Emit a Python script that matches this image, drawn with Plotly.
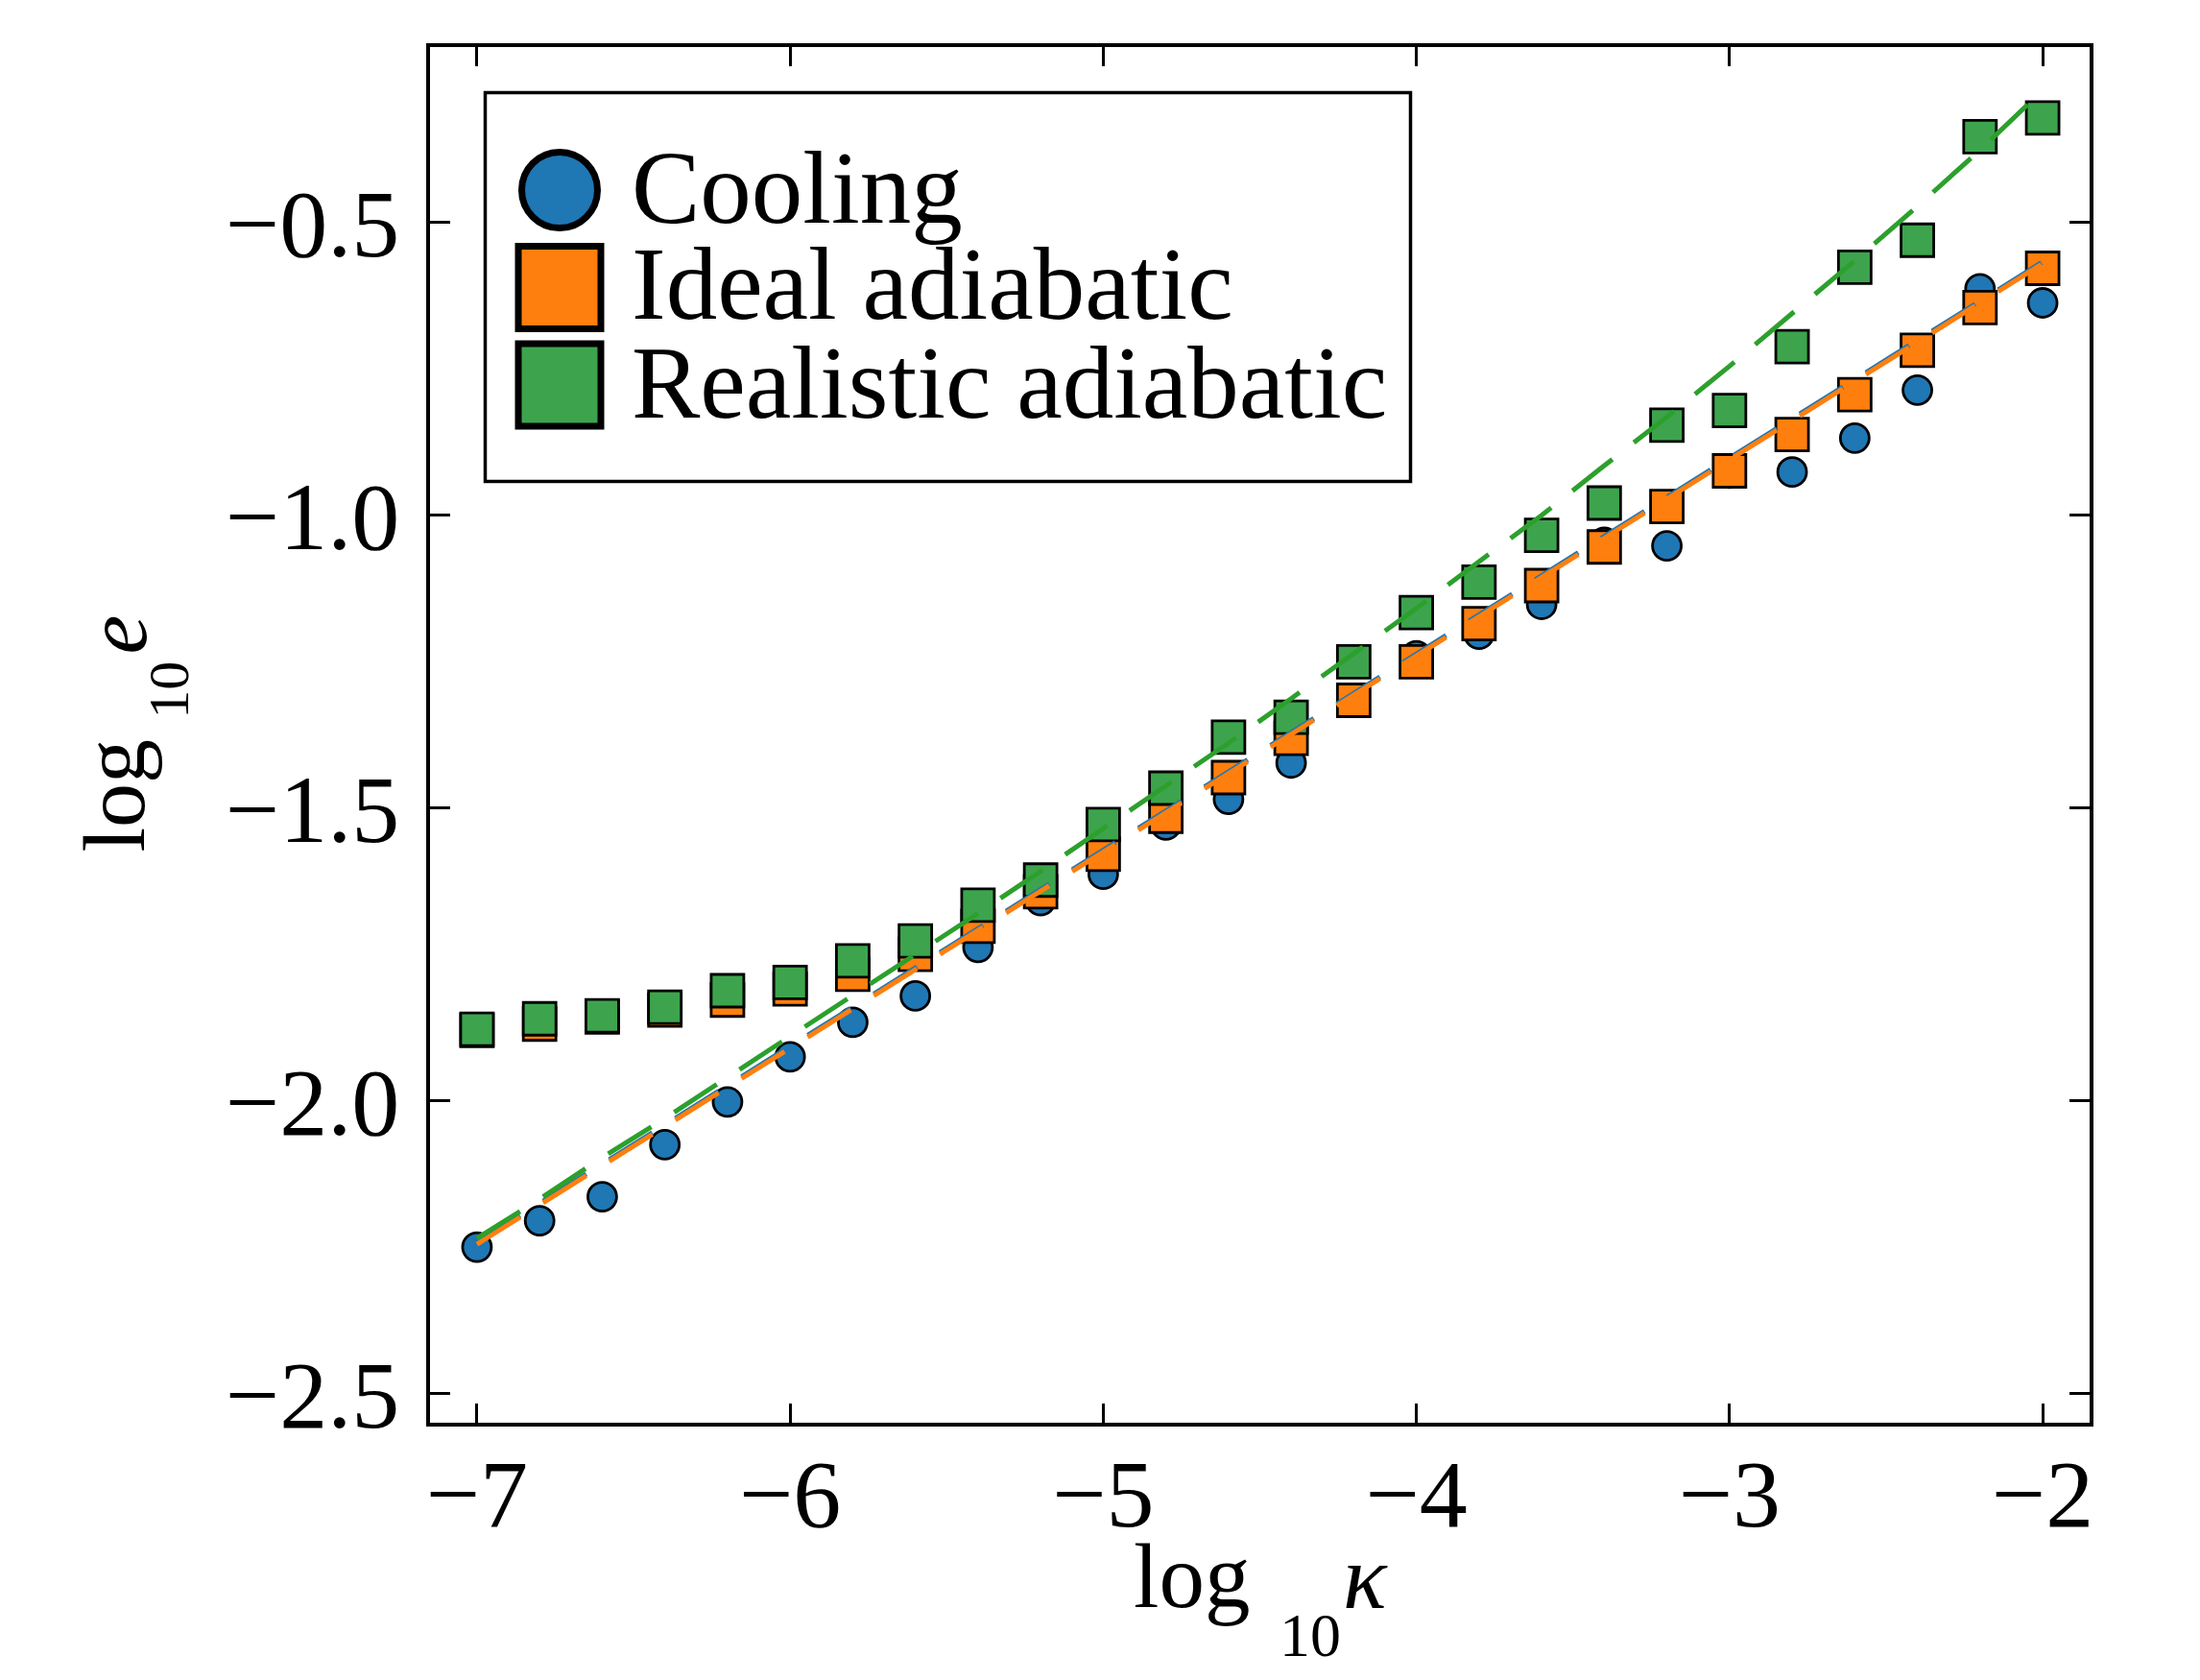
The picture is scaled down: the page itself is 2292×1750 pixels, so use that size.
import plotly.graph_objects as go

# ---------------- data ----------------
log_kappa = [-7.0, -6.8, -6.6, -6.4, -6.2, -6.0, -5.8, -5.6, -5.4, -5.2, -5.0, -4.8, -4.6,
             -4.4, -4.2, -4.0, -3.8, -3.6, -3.4, -3.2, -3.0, -2.8, -2.6, -2.4, -2.2, -2.0]
cooling = [-2.250, -2.205, -2.164, -2.075, -2.002, -1.925, -1.866, -1.821, -1.738, -1.658,
           -1.613, -1.529, -1.485, -1.423, -1.318, -1.240, -1.203, -1.152, -1.046, -1.052,
           -0.928, -0.926, -0.868, -0.786, -0.613, -0.637]
ideal = [-1.880, -1.869, -1.857, -1.845, -1.828, -1.809, -1.784, -1.750, -1.702, -1.643,
         -1.579, -1.514, -1.448, -1.381, -1.316, -1.250, -1.185, -1.120, -1.054, -0.985,
         -0.924, -0.862, -0.794, -0.718, -0.645, -0.578]
realistic = [-1.878, -1.860, -1.855, -1.840, -1.812, -1.798, -1.761, -1.727, -1.666, -1.623,
             -1.528, -1.466, -1.379, -1.345, -1.250, -1.166, -1.114, -1.034, -0.979, -0.846,
             -0.821, -0.712, -0.576, -0.530, -0.353, -0.321]
fit_ends_x = [-7.0, -2.0]
cooling_fit = [-2.242, -0.567]
ideal_fit = [-2.245, -0.570]
realistic_fit = [-2.235, -2.168, -2.097, -2.030, -1.960, -1.890, -1.821, -1.751, -1.680, -1.608,
                 -1.535, -1.462, -1.389, -1.313, -1.237, -1.159, -1.079, -1.000, -0.915, -0.832,
                 -0.745, -0.656, -0.565, -0.472, -0.376, -0.274]
series_names = ["Cooling", "Ideal adiabatic", "Realistic adiabatic"]
x_ticks = [-7, -6, -5, -4, -3, -2]
y_ticks = [-2.5, -2.0, -1.5, -1.0, -0.5]

# ---------------- style ----------------
BLUE, ORANGE, GREEN = "#1f77b4", "#ff7f0e", "#2ca02c"
GREEN_M = "#3da44d"
FONT = "Liberation Serif"
W, H = 2292, 1750
ML, MR, MT, MB = 448, 115, 49, 268
PW, PH = W - ML - MR, H - MT - MB


def px(x):
    return (x - ML) / PW


def py(y):
    return (H - MB - y) / PH


fig = go.Figure()
mline = dict(color="black", width=2.8)
fig.add_trace(go.Scatter(x=log_kappa, y=cooling, mode="markers", name=series_names[0],
                         marker=dict(symbol="circle", size=30, color=BLUE, line=mline)))
fig.add_trace(go.Scatter(x=log_kappa, y=ideal, mode="markers", name=series_names[1],
                         marker=dict(symbol="square", size=34, color=ORANGE, line=mline)))
fig.add_trace(go.Scatter(x=log_kappa, y=realistic, mode="markers", name=series_names[2],
                         marker=dict(symbol="square", size=34, color=GREEN_M, line=mline)))
DASH = "53px,28.3px"
fig.add_trace(go.Scatter(x=fit_ends_x, y=cooling_fit, mode="lines",
                         line=dict(color=BLUE, width=5, dash=DASH)))
fig.add_trace(go.Scatter(x=fit_ends_x, y=ideal_fit, mode="lines",
                         line=dict(color=ORANGE, width=5, dash=DASH)))
fig.add_trace(go.Scatter(x=log_kappa, y=realistic_fit, mode="lines",
                         line=dict(color=GREEN, width=5, dash=DASH)))

axis_common = dict(showgrid=False, zeroline=False, showline=True, linecolor="black",
                   linewidth=3.5, mirror="allticks", ticks="inside", tickwidth=3,
                   tickcolor="black", tickfont=dict(family=FONT, size=100, color="black"))
fig.update_xaxes(range=[-7.15, -1.85], tickvals=x_ticks, ticklen=20,
                 ticklabelstandoff=-16, **axis_common)
fig.update_yaxes(range=[-2.55, -0.2], tickvals=y_ticks, tickformat=".1f", ticklen=21,
                 ticklabelstandoff=8, **axis_common)

shapes = []
# legend box
shapes.append(dict(type="rect", xref="paper", yref="paper", x0=px(505.5), x1=px(1469.5),
                   y0=py(501.5), y1=py(96.5), line=dict(color="black", width=3.5),
                   fillcolor="white", layer="above"))
lw = 7
cx = 583
r = (86 - lw) / 2
shapes.append(dict(type="circle", xref="paper", yref="paper", x0=px(cx - r), x1=px(cx + r),
                   y0=py(198 + r), y1=py(198 - r), line=dict(color="black", width=lw),
                   fillcolor=BLUE))
s = (93 - lw) / 2
for cy, col in [(299.5, ORANGE), (401, GREEN_M)]:
    shapes.append(dict(type="rect", xref="paper", yref="paper", x0=px(cx - s), x1=px(cx + s),
                       y0=py(cy + s), y1=py(cy - s), line=dict(color="black", width=lw),
                       fillcolor=col))

ann = []


def text_at(txt, left, baseline, size, italic=False):
    t = f"<i>{txt}</i>" if italic else txt
    ann.append(dict(text=t, xref="paper", yref="paper", x=px(left), y=py(baseline - 0.3375 * size),
                    xanchor="left", yanchor="middle", showarrow=False,
                    font=dict(family=FONT, size=size, color="black")))


def rot_text_at(txt, center_y, baseline_x, size, italic=False):
    t = f"<i>{txt}</i>" if italic else txt
    ann.append(dict(text=t, xref="paper", yref="paper", x=px(baseline_x - 0.3375 * size),
                    y=py(center_y), xanchor="center", yanchor="middle", textangle=-90,
                    showarrow=False, font=dict(family=FONT, size=size, color="black")))


# legend labels
text_at(series_names[0], 656, 232.6, 107)
text_at(series_names[1], 656, 332.6, 107)
text_at(series_names[2], 656, 435, 107)
# x-axis title: log_10 kappa
text_at("log", 1179, 1674, 95)
text_at("10", 1331, 1725, 64)
text_at("κ", 1397, 1675, 95, italic=True)
# y-axis title: log_10 e
rot_text_at("log", 828.5, 150, 92)
rot_text_at("10", 719, 196, 60)
rot_text_at("e", 660.5, 152, 92, italic=True)

fig.update_layout(width=W, height=H, margin=dict(l=ML, r=MR, t=MT, b=MB),
                  plot_bgcolor="white", paper_bgcolor="white", showlegend=False,
                  shapes=shapes, annotations=ann)
fig.write_html("out.html")
